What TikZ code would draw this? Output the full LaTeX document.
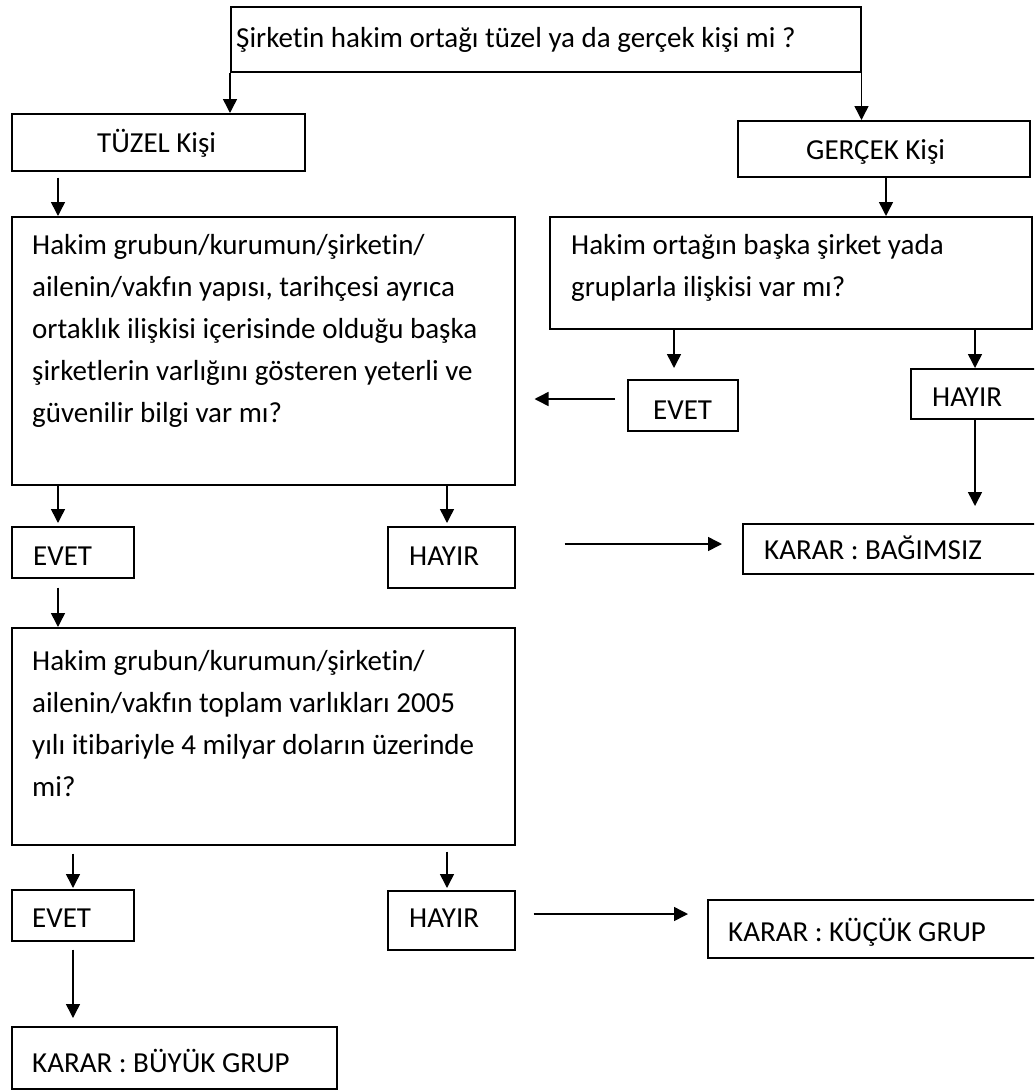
\documentclass[tikz,border=0pt]{standalone}
\usepackage{fontspec}
\setmainfont{Carlito}[Ligatures=NoCommon]
\usetikzlibrary{arrows.meta,calc}
\begin{document}
\begin{tikzpicture}[x=1pt,y=-1pt,
  box/.style={draw, line width=1.5pt, inner sep=0pt, anchor=north west},
  txt/.style={inner sep=0pt, anchor=base west, font=\fontsize{29}{42}\selectfont},
  arr/.style={line width=1.5pt, -{Triangle[length=14pt,width=14pt]}}]
\clip (0,0) rectangle (1034,1090);

% boxes
\node[box, minimum width=630pt, minimum height=65pt]  (top)      at (230,6)    {};
\node[box, minimum width=293pt, minimum height=57pt]  (tuzel)    at (11,113)   {};
\node[box, minimum width=292pt, minimum height=56pt]  (gercek)   at (737,120)  {};
\node[box, minimum width=503pt, minimum height=268pt] (big1)     at (11,216)   {};
\node[box, minimum width=482pt, minimum height=112pt] (big2)     at (549,216)  {};
\node[box, minimum width=110pt, minimum height=51pt]  (evetR)    at (627,379)  {};
\node[box, minimum width=140pt, minimum height=50pt]  (hayirR)   at (910,368)  {};
\node[box, minimum width=310pt, minimum height=50pt]  (bagimsiz) at (742,523)  {};
\node[box, minimum width=122pt, minimum height=51pt]  (evet1)    at (11,526)   {};
\node[box, minimum width=127pt, minimum height=61pt]  (hayir1)   at (387,526)  {};
\node[box, minimum width=503pt, minimum height=217pt] (big3)     at (11,627)   {};
\node[box, minimum width=122pt, minimum height=51pt]  (evet2)    at (11,889)   {};
\node[box, minimum width=127pt, minimum height=59pt]  (hayir2)   at (387,890)  {};
\node[box, minimum width=340pt, minimum height=58pt]  (kucuk)    at (707,899)  {};
\node[box, minimum width=325pt, minimum height=62pt]  (buyuk)    at (11,1026)  {};

% texts
\node[txt] (top-t)      at (236,47)  {Şirketin hakim ortağı tüzel ya da gerçek kişi mi ?};
\node[txt] (tuzel-t)    at (97,152)  {TÜZEL Kişi};
\node[txt] (gercek-t)   at (806,159) {GERÇEK Kişi};
\node[txt] (big1-t)     at (32,254)  {\parbox[t]{480pt}{\raggedright
  Hakim grubun/kurumun/şirketin/\\
  ailenin/vakfın yapısı, tarihçesi ayrıca\\
  ortaklık ilişkisi içerisinde olduğu başka\\
  şirketlerin varlığını gösteren yeterli ve\\
  güvenilir bilgi var mı?}};
\node[txt] (big2-t)     at (571,254) {\parbox[t]{450pt}{\raggedright
  Hakim ortağın başka şirket yada\\
  gruplarla ilişkisi var mı?}};
\node[txt] (evetR-t)    at (653,419) {EVET};
\node[txt] (hayirR-t)   at (932,406) {HAYIR};
\node[txt] (bagimsiz-t) at (764,559) {KARAR : BAĞIMSIZ};
\node[txt] (evet1-t)    at (33,565)  {EVET};
\node[txt] (hayir1-t)   at (409,565) {HAYIR};
\node[txt] (big3-t)     at (32,670)  {\parbox[t]{480pt}{\raggedright
  Hakim grubun/kurumun/şirketin/\\
  ailenin/vakfın toplam varlıkları 2005\\
  yılı itibariyle 4 milyar doların üzerinde\\
  mi?}};
\node[txt] (evet2-t)    at (32,927)  {EVET};
\node[txt] (hayir2-t)   at (409,927) {HAYIR};
\node[txt] (kucuk-t)    at (728,941) {KARAR : KÜÇÜK GRUP};
\node[txt] (buyuk-t)    at (32,1072) {KARAR : BÜYÜK GRUP};

% connectors
\draw[arr] (top.south west) -- (top.south west |- tuzel.north);
\draw[arr] (top.south east) -- (top.south east |- gercek.north);
\draw[arr] ($(tuzel.south west)+(47,6)$) -- ($(big1.north west)+(47,0)$);
\draw[arr] ($(gercek.south west)+(149,0)$) -- ($(big2.north west)+(337,0)$);
\draw[arr] ($(big2.south west)+(125,0)$) -- ($(evetR.north west)+(47,-11)$);
\draw[arr] ($(big2.south west)+(426,0)$) -- ($(hayirR.north west)+(65,0)$);
\draw[arr] ($(evetR.north west)+(-12,20)$) -- ($(big1.north east)+(19,183)$);
\draw[arr] ($(hayirR.south west)+(65,0)$) -- ($(bagimsiz.north west)+(233,-17)$);
\draw[arr] ($(hayir1.north east)+(49,18)$) -- ($(bagimsiz.north west)+(-20,21)$);
\draw[arr] ($(big1.south west)+(47,0)$) -- ($(evet1.north west)+(47,-3)$);
\draw[arr] ($(big1.south west)+(436,0)$) -- ($(hayir1.north west)+(60,-3)$);
\draw[arr] ($(evet1.south west)+(47,9)$) -- ($(big3.north west)+(47,0)$);
\draw[arr] ($(big3.south west)+(62,8)$) -- ($(evet2.north west)+(62,-1)$);
\draw[arr] ($(big3.south west)+(436,6)$) -- ($(hayir2.north west)+(60,-2)$);
\draw[arr] ($(evet2.south west)+(62,8)$) -- ($(buyuk.north west)+(62,-8)$);
\draw[arr] ($(hayir2.north east)+(18,24)$) -- ($(kucuk.north west)+(-19,15)$);
\end{tikzpicture}
\end{document}
